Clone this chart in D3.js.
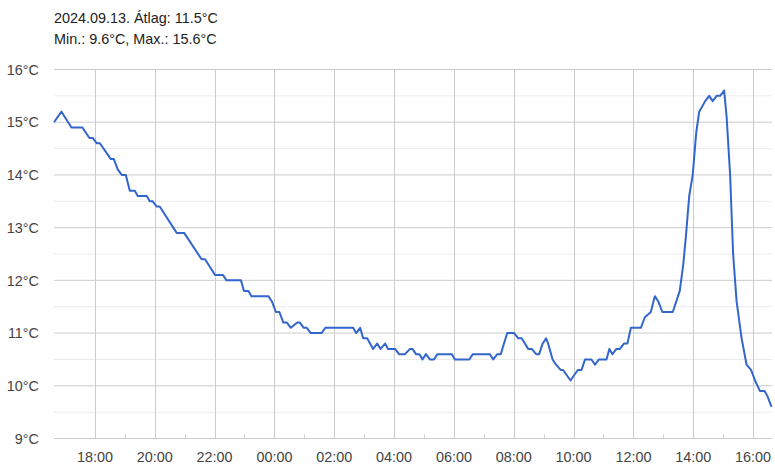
<!DOCTYPE html>
<html>
<head>
<meta charset="utf-8">
<script src="https://cdn.jsdelivr.net/npm/d3@7"></script>
<style>
    body { margin: 0; background: #fff; }
    svg { display: block; font-family: Arial, "Liberation Sans", sans-serif; }
</style>
</head>
<body>
<div id="chart"></div>
<script>

// title lines
let titleLines = ["2024.09.13. Átlag: 11.5°C", "Min.: 9.6°C, Max.: 15.6°C"];

// time window shown (one day back from the last reading)
let domainStart = "2024-09-12 16:38";
let domainEnd = "2024-09-13 16:38";

// readings, times roll over midnight into 09.13
let times = [
    "16:38", "16:53", "17:13", "17:35", "17:49", "17:56", "18:04", "18:10", "18:32", "18:38",
    "18:46", "18:54", "19:02", "19:10", "19:20", "19:26", "19:44", "19:50", "19:56", "20:04",
    "20:10", "20:44", "20:59", "21:34", "21:41", "22:01", "22:17", "22:24", "22:53", "22:59",
    "23:08", "23:14", "23:48", "23:55", "00:03", "00:10", "00:18", "00:25", "00:33", "00:46",
    "00:51", "00:59", "01:05", "01:13", "01:35", "01:42", "02:38", "02:44", "02:52", "02:58",
    "03:06", "03:18", "03:26", "03:33", "03:42", "03:48", "04:02", "04:10", "04:22", "04:32",
    "04:37", "04:44", "04:51", "04:57", "05:04", "05:12", "05:20", "05:27", "05:56", "06:02",
    "06:31", "06:38", "07:12", "07:19", "07:27", "07:34", "07:47", "08:01", "08:09", "08:16",
    "08:29", "08:36", "08:45", "08:51", "08:58", "09:05", "09:09", "09:18", "09:25", "09:34",
    "09:39", "09:54", "10:01", "10:09", "10:16", "10:23", "10:36", "10:43", "10:51", "11:06",
    "11:12", "11:18", "11:26", "11:33", "11:41", "11:48", "11:55", "12:15", "12:23", "12:35",
    "12:43", "12:50", "12:58", "13:19", "13:33", "13:40", "13:45", "13:52", "13:59", "14:06",
    "14:12", "14:24", "14:32", "14:39", "14:47", "14:54", "15:02", "15:07", "15:14", "15:20",
    "15:27", "15:37", "15:47", "15:56", "16:04", "16:14", "16:23", "16:29", "16:37"
];

let temps = [
    15.0, 15.2, 14.9, 14.9, 14.7, 14.7, 14.6, 14.6, 14.3, 14.3,
    14.1, 14.0, 14.0, 13.7, 13.7, 13.6, 13.6, 13.5, 13.5, 13.4,
    13.4, 12.9, 12.9, 12.4, 12.4, 12.1, 12.1, 12.0, 12.0, 11.8,
    11.8, 11.7, 11.7, 11.6, 11.4, 11.4, 11.2, 11.2, 11.1, 11.2,
    11.2, 11.1, 11.1, 11.0, 11.0, 11.1, 11.1, 11.0, 11.1, 10.9,
    10.9, 10.7, 10.8, 10.7, 10.8, 10.7, 10.7, 10.6, 10.6, 10.7,
    10.7, 10.6, 10.6, 10.5, 10.6, 10.5, 10.5, 10.6, 10.6, 10.5,
    10.5, 10.6, 10.6, 10.5, 10.6, 10.6, 11.0, 11.0, 10.9, 10.9,
    10.7, 10.7, 10.6, 10.6, 10.8, 10.9, 10.8, 10.5, 10.4, 10.3,
    10.3, 10.1, 10.2, 10.3, 10.3, 10.5, 10.5, 10.4, 10.5, 10.5,
    10.7, 10.6, 10.7, 10.7, 10.8, 10.8, 11.1, 11.1, 11.3, 11.4,
    11.7, 11.6, 11.4, 11.4, 11.8, 12.3, 12.8, 13.6, 14.0, 14.8,
    15.2, 15.4, 15.5, 15.4, 15.5, 15.5, 15.6, 15.1, 14.0, 12.5,
    11.6, 10.9, 10.4, 10.3, 10.1, 9.9, 9.9, 9.8, 9.6
];

// axis ticks
let yTicks = [9, 10, 11, 12, 13, 14, 15, 16];
let yMinorTicks = [9.5, 10.5, 11.5, 12.5, 13.5, 14.5, 15.5];
let xTickLabels = ["18:00", "20:00", "22:00", "00:00", "02:00", "04:00", "06:00", "08:00",
    "10:00", "12:00", "14:00", "16:00"];


let margin = {left: 54, right: 3, top: 69.5, bottom: 35.5};
let width = 775, height = 474;
let fontSize = 14.4;

let parseFull = d3.timeParse("%Y-%m-%d %H:%M");
let start = parseFull(domainStart);
let end = parseFull(domainEnd);

// turn HH:MM strings into dates, stepping to the next day after midnight
function toDates(list) {
    let day = "2024-09-12";
    let prev = -1;
    return list.map(t => {
        let mins = +t.slice(0, 2) * 60 + +t.slice(3);
        if (mins < prev) day = "2024-09-13";
        prev = mins;
        return parseFull(day + " " + t);
    });
}

let data = toDates(times).map((d, i) => ({time: d, temp: temps[i]}));
let tickDates = toDates(["16:38"].concat(xTickLabels)).slice(1);

let svg = d3.select("#chart").append("svg")
    .attr("width", width)
    .attr("height", height);

let x = d3.scaleTime()
    .domain([start, end])
    .range([margin.left, width - margin.right]);

let y = d3.scaleLinear()
    .domain([9, 16])
    .range([height - margin.bottom, margin.top]);

// minor horizontal gridlines
svg.append("g")
    .selectAll("line")
    .data(yMinorTicks)
    .enter().append("line")
    .attr("x1", x.range()[0])
    .attr("x2", x.range()[1])
    .attr("y1", d => y(d))
    .attr("y2", d => y(d))
    .attr("stroke", "#ebebeb")
    .attr("stroke-width", 1);

// major horizontal gridlines
svg.append("g")
    .selectAll("line")
    .data(yTicks)
    .enter().append("line")
    .attr("x1", x.range()[0])
    .attr("x2", x.range()[1])
    .attr("y1", d => y(d))
    .attr("y2", d => y(d))
    .attr("stroke", "#cccccc")
    .attr("stroke-width", 1);

// vertical gridlines at the labelled hours
svg.append("g")
    .selectAll("line")
    .data(tickDates)
    .enter().append("line")
    .attr("x1", d => Math.round(x(d)) + 0.5)
    .attr("x2", d => Math.round(x(d)) + 0.5)
    .attr("y1", y(16))
    .attr("y2", y(9))
    .attr("stroke", "#cccccc")
    .attr("stroke-width", 1);

// small ticks at the odd hours
let oddHours = d3.timeHour.every(2).range(start, end)
    .map(d => d3.timeHour.offset(d, 1))
    .filter(d => d > start && d < end);

svg.append("g")
    .selectAll("line")
    .data(oddHours)
    .enter().append("line")
    .attr("x1", d => Math.round(x(d)) + 0.5)
    .attr("x2", d => Math.round(x(d)) + 0.5)
    .attr("y1", y(9) - 4)
    .attr("y2", y(9))
    .attr("stroke", "#cccccc")
    .attr("stroke-width", 1);

// y labels
svg.append("g")
    .selectAll("text")
    .data(yTicks)
    .enter().append("text")
    .attr("x", 39)
    .attr("y", d => y(d))
    .attr("dy", "0.36em")
    .attr("text-anchor", "end")
    .attr("font-size", fontSize)
    .attr("fill", "#444")
    .text(d => d + "°C");

// x labels
svg.append("g")
    .selectAll("text")
    .data(tickDates)
    .enter().append("text")
    .attr("x", d => x(d))
    .attr("y", 461.5)
    .attr("text-anchor", "middle")
    .attr("font-size", fontSize)
    .attr("fill", "#444")
    .text(d => d3.timeFormat("%H:%M")(d));

// the temperature line
let line = d3.line()
    .x(d => x(d.time))
    .y(d => y(d.temp));

svg.append("path")
    .datum(data)
    .attr("d", line)
    .attr("fill", "none")
    .attr("stroke", "#3366cc")
    .attr("stroke-width", 2)
    .attr("stroke-linejoin", "round");

// title
svg.append("g")
    .selectAll("text")
    .data(titleLines)
    .enter().append("text")
    .attr("x", 54)
    .attr("y", (d, i) => 23 + i * 20.5)
    .attr("font-size", fontSize)
    .attr("fill", "#222")
    .text(d => d);

</script>
</body>
</html>
